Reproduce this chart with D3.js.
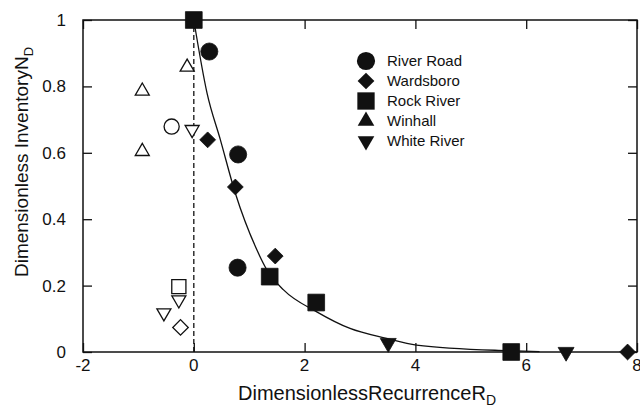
<!DOCTYPE html>
<html>
<head>
<meta charset="utf-8">
<script src="https://cdn.jsdelivr.net/npm/d3@7"></script>
<style>
  html, body { margin: 0; padding: 0; background: #fff; }
  svg text { font-family: "Liberation Sans", Arial, sans-serif; fill: #111; }
</style>
</head>
<body>
<div id="chart"></div>
<script>
// Dimensionless inventory vs recurrence — filled = fitted sites, open = points left of R_D = 0
const xTicks = [-2, 0, 2, 4, 6, 8];
const yTicks = [0, 0.2, 0.4, 0.6, 0.8, 1];

const riverRoad   = [[0.28, 0.905], [0.80, 0.595], [0.79, 0.254]];
const wardsboro   = [[0.25, 0.639], [0.75, 0.497], [1.47, 0.289], [7.83, 0.0]];
const rockRiver   = [[0.0, 1.0], [1.37, 0.227], [2.21, 0.149], [5.73, 0.0]];
const whiteRiver  = [[3.51, 0.027], [6.72, 0.0]];

const riverRoadOpen  = [[-0.40, 0.679]];
const wardsboroOpen  = [[-0.24, 0.074]];
const rockRiverOpen  = [[-0.27, 0.197]];
const winhallOpen    = [[-0.93, 0.786], [-0.93, 0.604], [-0.12, 0.858]];
const whiteRiverOpen = [[-0.03, 0.670], [-0.27, 0.157], [-0.54, 0.118]];

// fitted curve
const fitCurve = [[0.0, 1.0], [0.24, 0.779], [0.48, 0.639], [0.75, 0.478], [1.14, 0.307],
  [1.32, 0.247], [1.62, 0.187], [2.22, 0.121], [2.82, 0.071], [3.48, 0.041],
  [4.02, 0.021], [5.64, 0.004], [6.24, 0.001]];

const legendNames = ["River Road", "Wardsboro", "Rock River", "Winhall", "White River"];

const W = 640, H = 414;
const svg = d3.select('#chart').append('svg').attr('width', W).attr('height', H);

const x = d3.scaleLinear().domain([-2, 8]).range([83, 637]);
const y = d3.scaleLinear().domain([0, 1]).range([352, 20]);

// symbol helpers
const sym = {
  circle:  s => d3.symbol().type(d3.symbolCircle).size(s)(),
  square:  s => d3.symbol().type(d3.symbolSquare).size(s)(),
  diamond: s => d3.symbol().type(d3.symbolSquare).size(s)(),
  up:      s => d3.symbol().type(d3.symbolTriangle).size(s)(),
  down:    s => d3.symbol().type(d3.symbolTriangle).size(s)()
};
const rot = { circle: 0, square: 0, diamond: 45, up: 0, down: 180 };

function drawPts(data, kind, size, filled) {
  svg.append('g').selectAll('path').data(data).enter().append('path')
    .attr('d', sym[kind](size))
    .attr('transform', d => `translate(${x(d[0])},${y(d[1])}) rotate(${rot[kind]})`)
    .attr('fill', filled ? '#111' : '#fff')
    .attr('stroke', '#111').attr('stroke-width', filled ? 0.8 : 1.3);
}

// dashed line at R_D = 0
svg.append('line')
  .attr('x1', x(0)).attr('x2', x(0)).attr('y1', y(0)).attr('y2', y(1))
  .attr('stroke', '#222').attr('stroke-width', 1.4).attr('stroke-dasharray', '5,3');

// frame + mirrored inward ticks
const gAx = svg.append('g');
gAx.append('rect').attr('x', x(-2)).attr('y', y(1)).attr('width', x(8) - x(-2)).attr('height', y(0) - y(1))
  .attr('fill', 'none').attr('stroke', '#111').attr('stroke-width', 1.5);

const tl = 9;
gAx.append('g').attr('transform', `translate(0,${y(0)})`)
  .call(d3.axisBottom(x).tickValues(xTicks).tickSize(-tl).tickFormat(''));
gAx.append('g').attr('transform', `translate(0,${y(1)})`)
  .call(d3.axisTop(x).tickValues(xTicks).tickSize(-tl).tickFormat(''));
gAx.append('g').attr('transform', `translate(${x(-2)},0)`)
  .call(d3.axisLeft(y).tickValues(yTicks).tickSize(-tl).tickFormat(''));
gAx.append('g').attr('transform', `translate(${x(8)},0)`)
  .call(d3.axisRight(y).tickValues(yTicks).tickSize(-tl).tickFormat(''));
gAx.selectAll('.domain').remove();
gAx.selectAll('.tick line').attr('stroke', '#111').attr('stroke-width', 1.3);

// tick labels
svg.append('g').selectAll('text').data(xTicks).enter().append('text')
  .attr('x', d => x(d)).attr('y', 371).attr('text-anchor', 'middle')
  .attr('font-size', 17).text(d => d);
svg.append('g').selectAll('text').data(yTicks).enter().append('text')
  .attr('x', 66).attr('y', d => y(d) + 6).attr('text-anchor', 'end')
  .attr('font-size', 17).text(d => (d === 0 || d === 1) ? d : d.toFixed(1));

// axis titles
const xt = svg.append('text').attr('x', 367).attr('y', 400).attr('text-anchor', 'middle').attr('font-size', 20);
xt.append('tspan').text('DimensionlessRecurrenceR');
xt.append('tspan').attr('font-size', 14).attr('dy', 5).text('D');

const yt = svg.append('text').attr('transform', 'translate(28,162) rotate(-90)')
  .attr('text-anchor', 'middle').attr('font-size', 19);
yt.append('tspan').text('Dimensionless InventoryN');
yt.append('tspan').attr('font-size', 13).attr('dy', 5).text('D');

// fitted curve
svg.append('path').datum(fitCurve)
  .attr('d', d3.line().x(d => x(d[0])).y(d => y(d[1])).curve(d3.curveMonotoneX))
  .attr('fill', 'none').attr('stroke', '#111').attr('stroke-width', 1.3);

// open points
drawPts(riverRoadOpen, 'circle', 180, false);
drawPts(wardsboroOpen, 'diamond', 120, false);
drawPts(rockRiverOpen, 'square', 200, false);
drawPts(winhallOpen, 'up', 85, false);
drawPts(whiteRiverOpen, 'down', 85, false);

// filled points
drawPts(riverRoad, 'circle', 230, true);
drawPts(wardsboro, 'diamond', 125, true);
drawPts(rockRiver, 'square', 280, true);
drawPts(whiteRiver, 'down', 110, true);

// legend
const legKinds = ['circle', 'diamond', 'square', 'up', 'down'];
const legSizes = [260, 140, 300, 120, 120];
const lg = svg.append('g').attr('transform', 'translate(366,61)');
legendNames.forEach((name, i) => {
  lg.append('path').attr('d', sym[legKinds[i]](legSizes[i]))
    .attr('transform', `translate(0,${i * 20}) rotate(${rot[legKinds[i]]})`)
    .attr('fill', '#111');
  lg.append('text').attr('x', 21).attr('y', i * 20 + 5).attr('font-size', 15).text(name);
});
</script>
</body>
</html>
